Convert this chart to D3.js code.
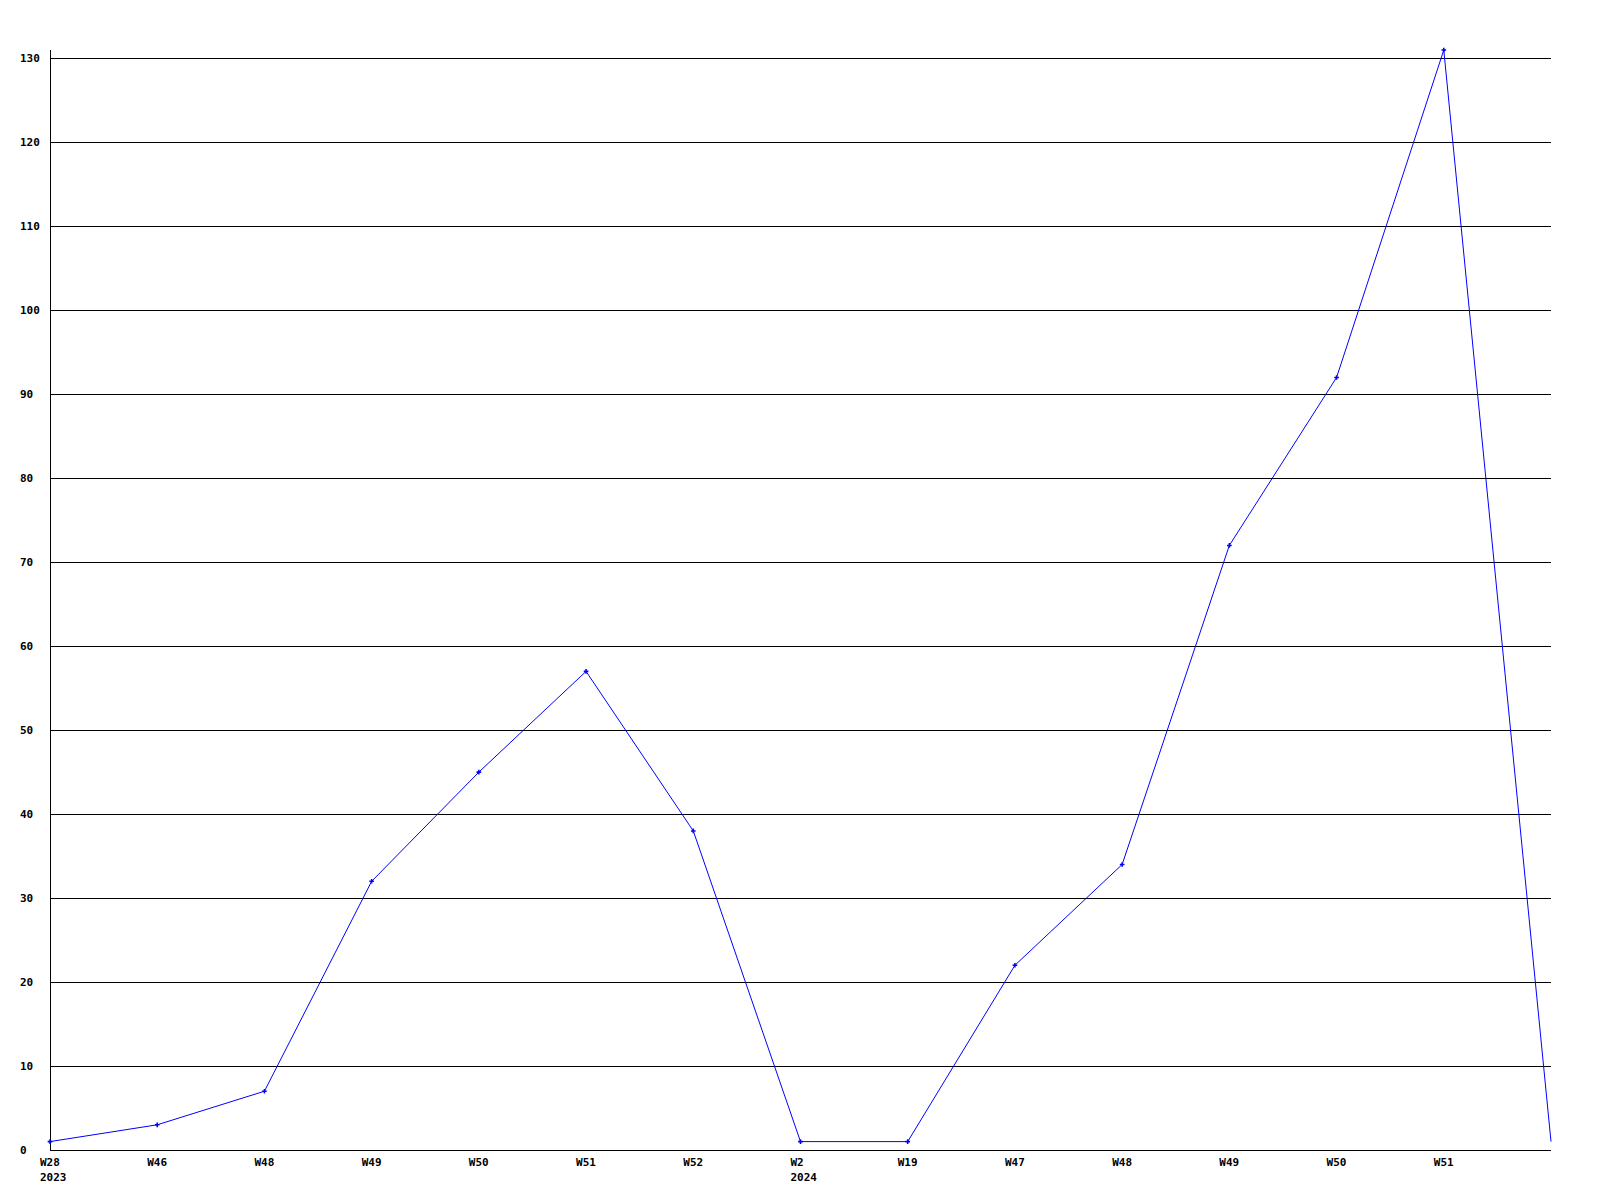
<!DOCTYPE html>
<html>
<head>
<meta charset="utf-8">
<script src="https://cdn.jsdelivr.net/npm/d3@7"></script>
<style>
html,body{margin:0;padding:0;background:#fff;}
svg text{font-family:"DejaVu Sans Mono","Liberation Mono",monospace;font-weight:bold;font-size:11px;fill:#000;}
</style>
</head>
<body>
<svg id="chart" width="1600" height="1200"></svg>
<script>
const weekLabels = ["W28","W46","W48","W49","W50","W51","W52","W2","W19","W47","W48","W49","W50","W51",""];
const yearLabels = ["2023","","","","","","","2024","","","","","","",""];
const values = [1,3,7,32,45,57,38,1,1,22,34,72,92,131,1];
const yTicks = [0,10,20,30,40,50,60,70,80,90,100,110,120,130];

(function(){
const svg = d3.select("#chart");
const pL = 50, pR = 1551, pT = 50, pB = 1150;
const idx = d3.range(values.length);
const x = d3.scaleLinear().domain([0, values.length - 1]).range([pL, pR]);
const y = d3.scaleLinear().domain([0, 131]).range([pB, pT]);

// gridlines
svg.append("g").selectAll("line").data(yTicks.filter(d => d > 0)).join("line")
  .attr("x1", pL).attr("x2", pR)
  .attr("y1", d => Math.round(y(d)) + 0.5).attr("y2", d => Math.round(y(d)) + 0.5)
  .attr("stroke", "#000").attr("stroke-width", 1);

// axes lines
svg.append("line").attr("x1", pL + 0.5).attr("x2", pL + 0.5).attr("y1", pT).attr("y2", pB)
  .attr("stroke", "#000");
svg.append("line").attr("x1", pL).attr("x2", pR).attr("y1", pB + 0.5).attr("y2", pB + 0.5)
  .attr("stroke", "#000");

// y labels (left-aligned)
svg.append("g").selectAll("text").data(yTicks).join("text")
  .attr("x", 20).attr("y", d => y(d) + 4)
  .attr("text-anchor", "start").text(d => d);

// x labels
svg.append("g").selectAll("text").data(idx).join("text")
  .attr("x", i => x(i) - 10).attr("y", 1166)
  .text(i => weekLabels[i]);
svg.append("g").selectAll("text").data(idx).join("text")
  .attr("x", i => x(i) - 10).attr("y", 1181)
  .text(i => yearLabels[i]);

// line
const line = d3.line().x(i => x(i)).y(i => y(values[i]));
svg.append("path").datum(idx).attr("d", line)
  .attr("fill", "none").attr("stroke", "#0000ff").attr("stroke-width", 1);

// markers
svg.append("g").selectAll("path").data(idx.filter(i => weekLabels[i] !== "")).join("path")
  .attr("transform", i => `translate(${x(i)},${y(values[i])})`)
  .attr("d", d3.symbol().type(d3.symbolCross).size(12))
  .attr("fill", "#0000ff");
})();
</script>
</body>
</html>
